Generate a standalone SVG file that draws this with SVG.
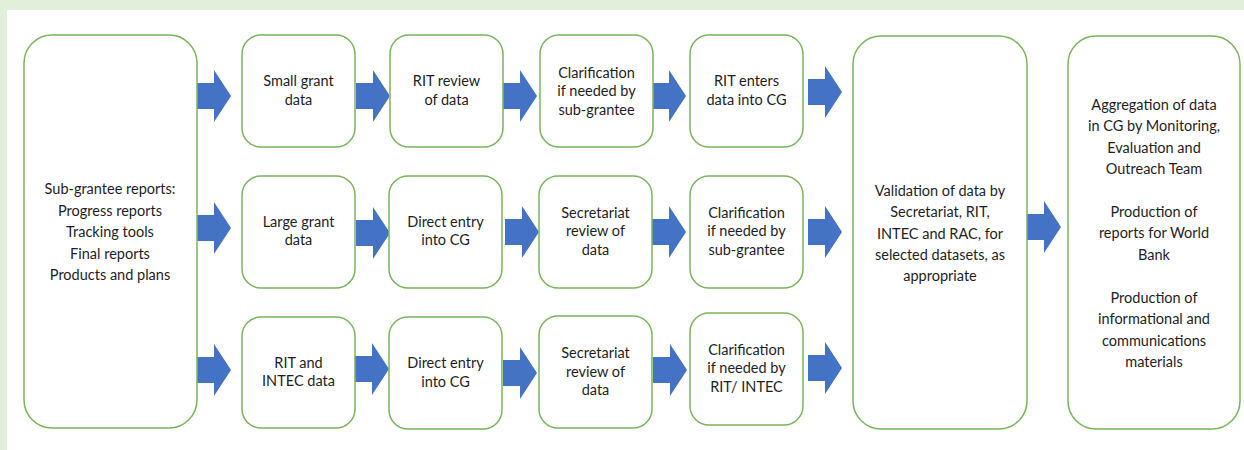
<svg xmlns="http://www.w3.org/2000/svg" width="1244" height="450" viewBox="0 0 1244 450">
<defs>
<style>
.box{fill:#ffffff;stroke:#7ab55c;stroke-width:1.5}
.t{font-family:Lato,"Open Sans","Liberation Sans",sans-serif;font-size:14.5px;fill:#1e1e1e;text-anchor:middle}
.arr{fill:#4472c4}
</style>
<path id="arrow" d="M0,-13 H17 V-26 L34,0 L17,26 V13 H0 Z"/>
</defs>
<rect x="0" y="0" width="1244" height="450" fill="#e2efda"/>
<rect x="7" y="10" width="1237" height="440" fill="#ffffff"/>

<g id="connectors" class="arr">
<use href="#arrow" transform="translate(197,96)"/>
<use href="#arrow" transform="translate(356,96)"/>
<use href="#arrow" transform="translate(503,96)"/>
<use href="#arrow" transform="translate(652,96)"/>
<use href="#arrow" transform="translate(808,92)"/>
<use href="#arrow" transform="translate(197,228)"/>
<use href="#arrow" transform="translate(356,233)"/>
<use href="#arrow" transform="translate(505,232)"/>
<use href="#arrow" transform="translate(652,232)"/>
<use href="#arrow" transform="translate(808,232)"/>
<use href="#arrow" transform="translate(197,370)"/>
<use href="#arrow" transform="translate(355,369)"/>
<use href="#arrow" transform="translate(503,373)"/>
<use href="#arrow" transform="translate(653,370)"/>
<use href="#arrow" transform="translate(808,368)"/>
<use href="#arrow" transform="translate(1027,227)"/>
</g>

<g id="reports">
<rect class="box" x="24" y="35" width="173" height="393" rx="28"/>
<text class="t" x="110" y="194">Sub-grantee reports:</text>
<text class="t" x="110" y="216">Progress reports</text>
<text class="t" x="110" y="237">Tracking tools</text>
<text class="t" x="110" y="259">Final reports</text>
<text class="t" x="110" y="280">Products and plans</text>
</g>

<g id="small-grant">
<rect class="box" x="242" y="35" width="113" height="112" rx="19"/>
<text class="t" x="298.5" y="86">Small grant</text>
<text class="t" x="298.5" y="104.5">data</text>
</g>
<g id="rit-review">
<rect class="box" x="390" y="35" width="113" height="112" rx="19"/>
<text class="t" x="446.5" y="86">RIT review</text>
<text class="t" x="446.5" y="104.5">of data</text>
</g>
<g id="clarif-1">
<rect class="box" x="540" y="35" width="113" height="112" rx="19"/>
<text class="t" x="596.5" y="77.5">Clarification</text>
<text class="t" x="596.5" y="96">if needed by</text>
<text class="t" x="596.5" y="114.5">sub-grantee</text>
</g>
<g id="rit-enters">
<rect class="box" x="690" y="35" width="113" height="112" rx="19"/>
<text class="t" x="746.5" y="86">RIT enters</text>
<text class="t" x="746.5" y="104.5">data into CG</text>
</g>

<g id="large-grant">
<rect class="box" x="242" y="176" width="113" height="112" rx="19"/>
<text class="t" x="298.5" y="227">Large grant</text>
<text class="t" x="298.5" y="245">data</text>
</g>
<g id="direct-entry-1">
<rect class="box" x="389" y="176" width="113" height="112" rx="19"/>
<text class="t" x="445.5" y="227">Direct entry</text>
<text class="t" x="445.5" y="245">into CG</text>
</g>
<g id="secretariat-1">
<rect class="box" x="539" y="176" width="113" height="112" rx="19"/>
<text class="t" x="595.5" y="217.5">Secretariat</text>
<text class="t" x="595.5" y="236">review of</text>
<text class="t" x="595.5" y="254.5">data</text>
</g>
<g id="clarif-2">
<rect class="box" x="690" y="176" width="113" height="112" rx="19"/>
<text class="t" x="746.5" y="217.5">Clarification</text>
<text class="t" x="746.5" y="236">if needed by</text>
<text class="t" x="746.5" y="254.5">sub-grantee</text>
</g>

<g id="rit-intec">
<rect class="box" x="242" y="317" width="113" height="111" rx="19"/>
<text class="t" x="298.5" y="367.5">RIT and</text>
<text class="t" x="298.5" y="386">INTEC data</text>
</g>
<g id="direct-entry-2">
<rect class="box" x="389" y="317" width="113" height="112" rx="19"/>
<text class="t" x="445.5" y="368">Direct entry</text>
<text class="t" x="445.5" y="386.5">into CG</text>
</g>
<g id="secretariat-2">
<rect class="box" x="539" y="316" width="113" height="112" rx="19"/>
<text class="t" x="595.5" y="358">Secretariat</text>
<text class="t" x="595.5" y="376.5">review of</text>
<text class="t" x="595.5" y="395">data</text>
</g>
<g id="clarif-3">
<rect class="box" x="690" y="313" width="113" height="112" rx="19"/>
<text class="t" x="746.5" y="354.5">Clarification</text>
<text class="t" x="746.5" y="373">if needed by</text>
<text class="t" x="746.5" y="391.5">RIT/ INTEC</text>
</g>

<g id="validation">
<rect class="box" x="853" y="36" width="174" height="393" rx="28"/>
<text class="t" x="940" y="196">Validation of data by</text>
<text class="t" x="940" y="217">Secretariat, RIT,</text>
<text class="t" x="940" y="238.5">INTEC and RAC, for</text>
<text class="t" x="940" y="259.5">selected datasets, as</text>
<text class="t" x="940" y="280.5">appropriate</text>
</g>

<g id="aggregation">
<rect class="box" x="1068" y="36" width="172" height="393" rx="28"/>
<text class="t" x="1154" y="110">Aggregation of data</text>
<text class="t" x="1154" y="131">in CG by Monitoring,</text>
<text class="t" x="1154" y="153">Evaluation and</text>
<text class="t" x="1154" y="174">Outreach Team</text>
<text class="t" x="1154" y="217">Production of</text>
<text class="t" x="1154" y="238">reports for World</text>
<text class="t" x="1154" y="260">Bank</text>
<text class="t" x="1154" y="303">Production of</text>
<text class="t" x="1154" y="324">informational and</text>
<text class="t" x="1154" y="346">communications</text>
<text class="t" x="1154" y="367">materials</text>
</g>
</svg>
